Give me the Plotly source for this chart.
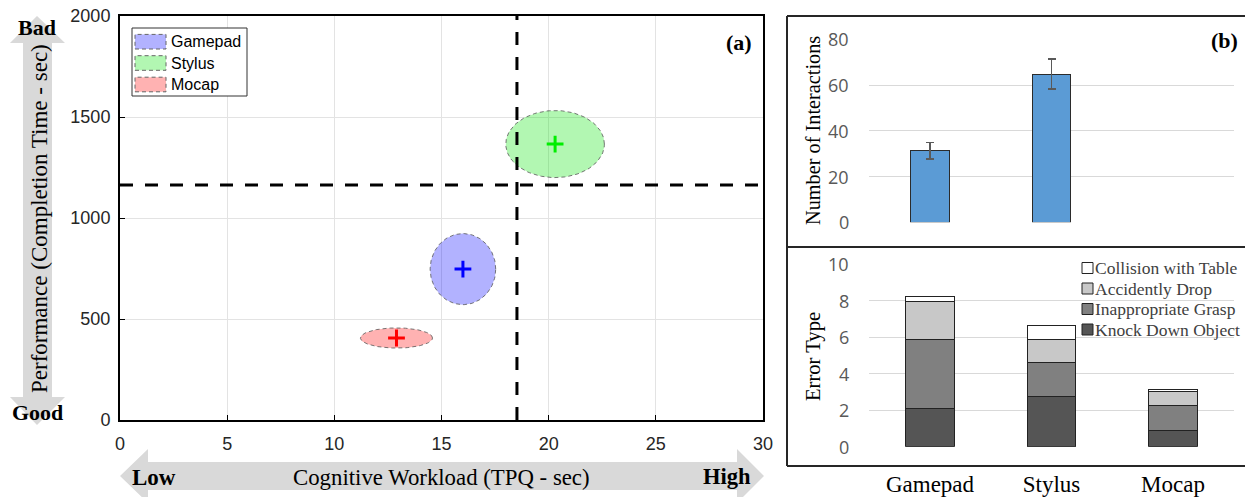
import numpy as np
import plotly.graph_objects as go

W, H = 1245, 497

# ---------------- data ----------------
devices = ["Gamepad", "Stylus", "Mocap"]
# panel (a): ellipse centres and radii
cw_mean = [16.0, 20.3, 12.9]          # cognitive workload (TPQ - sec)
ct_mean = [747, 1366, 406]            # completion time (sec)
cw_radius = [1.53, 2.3, 1.68]
ct_radius = [176, 166, 50]
fill_colors = ["rgba(0,0,255,0.3)", "rgba(0,230,0,0.3)", "rgba(255,0,0,0.3)"]
cross_colors = ["#0000ff", "#00ee00", "#ff0000"]
cw_threshold = 18.52
ct_threshold = 1163
cw_ticks = [0, 5, 10, 15, 20, 25, 30]
ct_ticks = [0, 500, 1000, 1500, 2000]

# panel (b) top: number of interactions
interactions = [31.2, 64.8, None]
interactions_err = [3.6, 6.5, None]
interaction_ticks = [0, 20, 40, 60, 80]

# panel (b) bottom: error types (stacked)
error_types = ["Knock Down Object", "Inappropriate Grasp", "Accidently Drop", "Collision with Table"]
error_values = {
    "Knock Down Object": [2.1, 2.74, 0.88],
    "Inappropriate Grasp": [3.77, 1.89, 1.37],
    "Accidently Drop": [2.1, 1.26, 0.75],
    "Collision with Table": [0.28, 0.73, 0.13],
}
error_colors = {
    "Knock Down Object": "#555555",
    "Inappropriate Grasp": "#808080",
    "Accidently Drop": "#c8c8c8",
    "Collision with Table": "#ffffff",
}
error_ticks = [0, 2, 4, 6, 8, 10]


def px(x):
    return x / W


def py(y):
    return 1 - y / H


SERIF = "Liberation Serif, Times New Roman, serif"
SANS = "Liberation Sans, Arial, sans-serif"
XLSANS = "Open Sans, Segoe UI, sans-serif"

fig = go.Figure()

# ---------------- panel (a) ----------------
t = np.linspace(0, 2 * np.pi, 120)
for i, d in enumerate(devices):
    fig.add_trace(go.Scatter(
        x=cw_mean[i] + cw_radius[i] * np.cos(t),
        y=ct_mean[i] + ct_radius[i] * np.sin(t),
        mode="lines", fill="toself", fillcolor=fill_colors[i],
        line=dict(color="#555555", width=0.8, dash="4px,3px"),
        name=d, showlegend=False, xaxis="x", yaxis="y", hoverinfo="skip",
    ))
for i, d in enumerate(devices):
    fig.add_trace(go.Scatter(
        x=[cw_mean[i]], y=[ct_mean[i]], mode="markers",
        marker=dict(symbol="cross-thin", size=12, line=dict(color=cross_colors[i], width=3)),
        showlegend=False, xaxis="x", yaxis="y",
    ))

# ---------------- panel (b) top ----------------
fig.add_trace(go.Bar(
    x=devices, y=interactions, width=0.315,
    marker=dict(color="#5b9bd5", line=dict(color="#2b2b2b", width=1)),
    error_y=dict(type="data", array=interactions_err, color="#595959", thickness=1.5, width=4),
    showlegend=False, xaxis="x2", yaxis="y2",
))

# ---------------- panel (b) bottom ----------------
for et in error_types:
    fig.add_trace(go.Bar(
        x=devices, y=error_values[et], width=0.4, name=et,
        marker=dict(color=error_colors[et], line=dict(color="#222222", width=1)),
        showlegend=False, xaxis="x3", yaxis="y3",
    ))

grid_a = "#e3e3e3"
grid_b = "#d9d9d9"

fig.update_layout(
    width=W, height=H,
    margin=dict(l=0, r=0, t=0, b=0, autoexpand=False),
    paper_bgcolor="white", plot_bgcolor="rgba(0,0,0,0)",
    barmode="stack", showlegend=False,
    xaxis=dict(
        domain=[px(120), px(763)], range=[0, 30], tickvals=cw_ticks,
        showgrid=True, gridcolor=grid_a, gridwidth=1, zeroline=False,
        showline=True, linecolor="black", linewidth=2, mirror=True,
        ticks="inside", ticklen=5, tickcolor="black", automargin=False,
        tickfont=dict(family=SANS, size=18, color="#262626"), ticklabelstandoff=6,
    ),
    yaxis=dict(
        domain=[py(420), py(16)], range=[0, 2000], tickvals=ct_ticks,
        showgrid=True, gridcolor=grid_a, gridwidth=1, zeroline=False,
        showline=True, linecolor="black", linewidth=2, mirror=True,
        ticks="inside", ticklen=5, tickcolor="black", automargin=False,
        tickfont=dict(family=SANS, size=18, color="#262626"), ticklabelstandoff=4,
    ),
    xaxis2=dict(
        domain=[px(869.25), px(1233.75)], anchor="y2", showticklabels=False,
        showgrid=False, zeroline=False, showline=False, ticks="", automargin=False,
    ),
    yaxis2=dict(
        domain=[py(222.3), py(39.3)], anchor="x2", range=[0, 80], tickvals=interaction_ticks,
        showgrid=True, gridcolor=grid_b, gridwidth=1, zeroline=False, showline=False,
        ticks="", showticklabels=False, automargin=False,
    ),
    xaxis3=dict(
        domain=[px(869.25), px(1233.75)], anchor="y3",
        showgrid=False, zeroline=False, showline=False, ticks="", automargin=False,
        tickfont=dict(family=SERIF, size=23, color="black"), ticklabelstandoff=21,
    ),
    yaxis3=dict(
        domain=[py(446.7), py(264.3)], anchor="x3", range=[0, 10], tickvals=error_ticks,
        showgrid=True, gridcolor=grid_b, gridwidth=1, zeroline=False, showline=False,
        ticks="", showticklabels=False, automargin=False,
    ),
)

shapes = []
annotations = []
# y tick labels of panel (b), placed on the axes' own scales
for v in interaction_ticks:
    annotations.append(dict(text=str(v), x=px(851), y=v, xref="paper", yref="y2",
                            showarrow=False, xanchor="right", yanchor="middle",
                            font=dict(family=XLSANS, size=18, color="#595959")))
for v in error_ticks:
    annotations.append(dict(text=str(v), x=px(851), y=v, xref="paper", yref="y3",
                            showarrow=False, xanchor="right", yanchor="middle",
                            font=dict(family=XLSANS, size=18, color="#595959")))

# threshold dashed lines
shapes.append(dict(type="line", xref="x", yref="y", x0=0, x1=30, y0=ct_threshold, y1=ct_threshold,
                   line=dict(color="black", width=3, dash="13px,12px"), layer="above"))
shapes.append(dict(type="line", xref="x", yref="y", x0=cw_threshold, x1=cw_threshold, y0=0, y1=2000,
                   line=dict(color="black", width=3, dash="13px,12px"), layer="above"))


def path(points):
    return "M" + " L".join(f"{px(a):.5f},{py(b):.5f}" for a, b in points) + " Z"


arrow_col = "#d9d9d9"
# vertical double arrow (performance)
shapes.append(dict(type="path", xref="paper", yref="paper", layer="below",
                   path=path([(37, 16), (65, 43), (52, 43), (52, 397), (65, 397), (37, 425),
                              (10, 397), (23, 397), (23, 43), (10, 43)]),
                   fillcolor=arrow_col, line=dict(width=0)))
# horizontal double arrow (cognitive workload)
shapes.append(dict(type="path", xref="paper", yref="paper", layer="below",
                   path=path([(120, 476), (148, 449), (148, 462), (737, 462), (737, 449), (764, 476),
                              (737, 503), (737, 490), (148, 490), (148, 503)]),
                   fillcolor=arrow_col, line=dict(width=0)))
# right panel frame
frame = "#262626"
for yy in (16, 247, 466):
    shapes.append(dict(type="line", xref="paper", yref="paper", x0=px(787), x1=px(1245), y0=py(yy), y1=py(yy),
                       line=dict(color=frame, width=2)))
shapes.append(dict(type="line", xref="paper", yref="paper", x0=px(787), x1=px(787), y0=py(16), y1=py(466),
                   line=dict(color=frame, width=2)))

# legend for panel (a)
shapes.append(dict(type="rect", xref="paper", yref="paper", x0=px(132), x1=px(247), y0=py(96), y1=py(28),
                   fillcolor="white", line=dict(color="#333333", width=1), layer="above"))
legend_a_rows = [41.7, 63, 84.5]
for row, d, fc in zip(legend_a_rows, devices, fill_colors):
    shapes.append(dict(type="rect", xref="paper", yref="paper",
                       x0=px(135), x1=px(166), y0=py(row + 7.3), y1=py(row - 7.3),
                       fillcolor=fc, line=dict(color="#666666", width=1, dash="4px,3px"), layer="above"))
    annotations.append(dict(text=d, x=px(169), y=py(row), xref="paper", yref="paper",
                            showarrow=False, xanchor="left", yanchor="middle",
                            font=dict(family=SANS, size=16, color="black")))

# legend for error types (top entry = last stacked)
legend_b_rows = [268, 288.5, 309, 329.5]
for row, et in zip(legend_b_rows, reversed(error_types)):
    shapes.append(dict(type="rect", xref="paper", yref="paper",
                       x0=px(1082), x1=px(1093), y0=py(row - 5.5), y1=py(row + 5.5),
                       fillcolor=error_colors[et], line=dict(color="#222222", width=1)))
    annotations.append(dict(text=et, x=px(1093), y=py(row), xref="paper", yref="paper",
                            showarrow=False, xanchor="left", yanchor="middle",
                            font=dict(family=SERIF, size=17.5, color="#404040")))
fig.update_layout(shapes=shapes)


def ann(text, x, y, size=20, bold=False, angle=0, family=SERIF, color="black"):
    return dict(text=f"<b>{text}</b>" if bold else text, x=px(x), y=py(y), xref="paper", yref="paper",
                showarrow=False, xanchor="center", yanchor="middle", textangle=angle,
                font=dict(family=family, size=size, color=color))


annotations += [
    ann("Performance (Completion Time - sec)", 39, 219, size=23, angle=-90),
    ann("Bad", 37, 27, size=22, bold=True),
    ann("Good", 37, 412, size=22, bold=True),
    ann("Cognitive Workload (TPQ - sec)", 441, 477, size=22.8),
    ann("Low", 154, 477, size=23, bold=True),
    ann("High", 727, 476, size=22.5, bold=True),
    ann("(a)", 739, 42, size=22, bold=True),
    ann("(b)", 1224, 41, size=22, bold=True),
    ann("Number of Interactions", 813, 130, size=20.3, angle=-90),
    ann("Error Type", 813, 356, size=20.6, angle=-90),
]
fig.update_layout(annotations=annotations)

fig.write_html("out.html")
